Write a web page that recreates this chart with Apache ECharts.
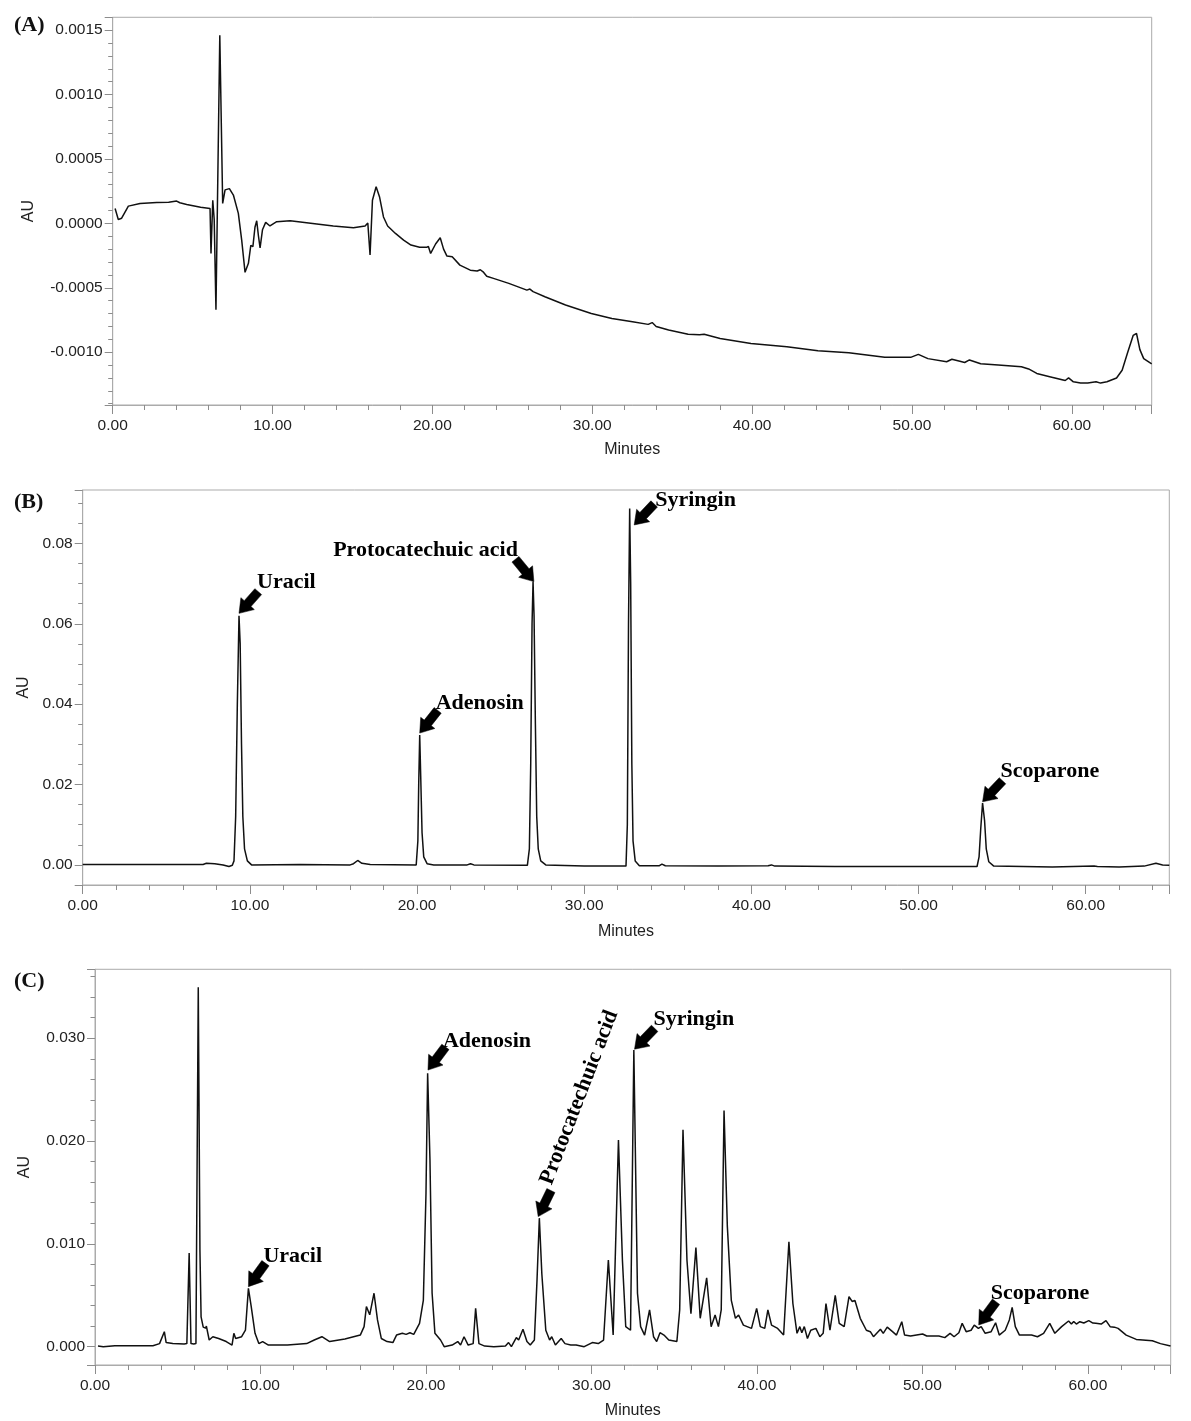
<!DOCTYPE html>
<html><head><meta charset="utf-8">
<script src="https://cdn.jsdelivr.net/npm/echarts@6/dist/echarts.min.js"></script>
<style>html,body{margin:0;padding:0;background:#fff}#c{width:1191px;height:1421px}</style>
</head><body><div id="c"></div>
<script>
// ---------- DATA ----------
const panelLabels = ['(A)', '(B)', '(C)'];
const xAxisName = 'Minutes';
const yAxisName = 'AU';

// Panel A: blank chromatogram [minutes, AU]
const traceA = [[0.15,0.000116],[0.35,0.00003],[0.56,0.00004],[0.98,0.000134],[1.71,0.000155],[2.75,0.000163],[3.5,0.000165],[4.0,0.000173],[4.2,0.00016],[4.63,0.000147],[5.5,0.000125],[6.09,0.000116],[6.15,-0.000233],[6.26,0.00018],[6.35,0.00003],[6.46,-0.00067],[6.70,0.00146],[6.88,0.000155],[7.03,0.00026],[7.3,0.00027],[7.55,0.00022],[7.86,0.000078],[8.07,-0.00013],[8.28,-0.00038],[8.4,-0.00037],[8.49,-0.00031],[8.64,-0.00017],[8.77,-0.00018],[8.9,-0.00003],[9.01,0.00002],[9.12,-0.0001],[9.22,-0.00019],[9.37,-0.00005],[9.57,0.000008],[9.84,-0.00002],[10.26,0.000013],[11.1,0.00002],[12.77,-0.000005],[13.8,-0.00002],[15.06,-0.000033],[15.79,-0.00002],[15.96,0.000003],[16.1,-0.000246],[16.25,0.00018],[16.48,0.000284],[16.69,0.000207],[16.94,0.00005],[17.2,-0.00002],[17.69,-0.000078],[18.2,-0.00013],[18.66,-0.000168],[19.2,-0.000185],[19.62,-0.000186],[19.75,-0.00018],[19.89,-0.000233],[20.2,-0.00016],[20.49,-0.000112],[20.7,-0.0002],[20.91,-0.000254],[21.24,-0.000259],[21.72,-0.000324],[22.37,-0.000363],[22.8,-0.00037],[23.0,-0.00036],[23.17,-0.000376],[23.4,-0.00041],[23.82,-0.000427],[24.78,-0.000466],[25.91,-0.000518],[26.1,-0.00051],[26.3,-0.00053],[27.04,-0.00057],[28.33,-0.000634],[29.94,-0.000699],[31.23,-0.000738],[32.52,-0.000764],[33.5,-0.000784],[33.75,-0.00077],[34.0,-0.0008],[34.78,-0.000828],[36.0,-0.00086],[36.71,-0.000865],[37.0,-0.00086],[38.0,-0.000893],[39.93,-0.000932],[42.18,-0.000958],[44.12,-0.000989],[46.05,-0.001005],[48.3,-0.00104],[49.92,-0.00104],[50.4,-0.001017],[51.0,-0.00105],[52.17,-0.001074],[52.5,-0.001055],[53.0,-0.00107],[53.3,-0.00108],[53.6,-0.00106],[54.3,-0.00109],[55.4,-0.0011],[56.85,-0.001113],[57.3,-0.00113],[57.81,-0.001165],[58.62,-0.00119],[59.59,-0.00122],[59.8,-0.0012],[60.1,-0.00123],[60.55,-0.00124],[61.0,-0.00124],[61.52,-0.00123],[61.8,-0.00124],[62.2,-0.00123],[62.8,-0.0012],[63.15,-0.00114],[63.5,-0.001],[63.84,-0.00087],[64.05,-0.000855],[64.26,-0.00098],[64.5,-0.00105],[65.0,-0.00109]];

// Panel B: standard mixture
const traceB = [[0,0.0001],[3,0.0001],[7.2,0.0001],[7.4,0.0004],[7.9,0.0003],[8.4,0.0],[8.75,-0.0004],[8.95,-0.0001],[9.05,0.001],[9.15,0.012],[9.25,0.04],[9.35,0.062],[9.42,0.055],[9.5,0.03],[9.58,0.012],[9.68,0.004],[9.85,0.001],[10.1,0.0],[13,0.0001],[16.0,0.0],[16.2,0.0003],[16.45,0.0011],[16.7,0.0004],[17.2,0.0001],[19.95,0.0],[20.05,0.006],[20.1,0.02],[20.16,0.0323],[20.22,0.022],[20.3,0.008],[20.4,0.002],[20.6,0.0003],[21,0.0],[23,0.0],[23.2,0.0003],[23.4,0.0],[26.6,-0.0001],[26.72,0.004],[26.8,0.025],[26.88,0.06],[26.94,0.0705],[27.0,0.062],[27.08,0.035],[27.16,0.012],[27.25,0.004],[27.4,0.001],[27.7,0.0],[30,-0.0003],[32.5,-0.0003],[32.58,0.01],[32.65,0.06],[32.72,0.0887],[32.78,0.07],[32.85,0.025],[32.92,0.006],[33.05,0.001],[33.3,-0.0002],[34.5,-0.0002],[34.65,0.0002],[34.85,-0.0002],[38,-0.0003],[41.0,-0.0002],[41.2,0.0],[41.4,-0.0003],[45,-0.0004],[50,-0.0004],[53.5,-0.0004],[53.62,0.002],[53.72,0.009],[53.83,0.0154],[53.95,0.011],[54.05,0.004],[54.2,0.0008],[54.5,-0.0003],[58,-0.0005],[60.5,-0.0003],[60.7,-0.0004],[62,-0.0005],[63.5,-0.0003],[64.2,0.0004],[64.6,0.0],[65,-0.0001]];

// Panel C: sample extract
const traceC = [[0.18,0.00006],[0.5,0.0],[1.2,0.0001],[3.5,0.0001],[3.9,0.0003],[4.19,0.00146],[4.3,0.0004],[4.7,0.0003],[5.39,0.00026],[5.55,0.0003],[5.69,0.0091],[5.8,0.0003],[5.97,0.00026],[6.1,0.0003],[6.24,0.03495],[6.34,0.0094],[6.41,0.0029],[6.54,0.0019],[6.68,0.0018],[6.73,0.002],[6.9,0.00065],[7.12,0.00097],[7.47,0.0008],[7.93,0.0005],[8.28,0.00016],[8.39,0.0013],[8.5,0.0008],[8.86,0.00097],[9.09,0.0016],[9.27,0.00567],[9.44,0.0039],[9.67,0.0013],[9.9,0.0003],[10.13,0.0005],[10.48,0.00016],[11.63,0.00016],[12.79,0.0003],[13.25,0.00065],[13.71,0.00097],[14.18,0.0005],[15.1,0.00075],[16.03,0.00113],[16.26,0.00195],[16.4,0.0039],[16.6,0.0031],[16.86,0.0052],[17.07,0.0026],[17.3,0.0008],[17.65,0.0005],[18.0,0.0004],[18.22,0.00113],[18.57,0.0013],[18.8,0.0012],[19.03,0.00136],[19.26,0.0012],[19.61,0.00227],[19.84,0.0045],[20.0,0.0149],[20.1,0.0266],[20.24,0.0182],[20.37,0.0052],[20.54,0.0013],[20.88,0.00065],[21.1,0.0],[21.58,0.00016],[21.92,0.0005],[22.09,0.00016],[22.3,0.00097],[22.55,0.00016],[22.85,0.0003],[23.0,0.00373],[23.2,0.0003],[23.55,0.00006],[24.1,0.0],[24.8,0.00006],[24.99,0.0004],[25.16,0.0],[25.46,0.00088],[25.6,0.00065],[25.86,0.0017],[26.1,0.0005],[26.3,0.00016],[26.55,0.00065],[26.71,0.0065],[26.85,0.0125],[27.0,0.0071],[27.24,0.0016],[27.47,0.00065],[27.6,0.00097],[27.82,0.00016],[28.17,0.0008],[28.4,0.0003],[28.75,0.00016],[29.07,0.00016],[29.56,0.0],[30.05,0.0004],[30.41,0.0003],[30.73,0.00065],[31.02,0.00843],[31.31,0.00113],[31.63,0.0201],[31.87,0.0084],[32.07,0.00195],[32.36,0.0016],[32.56,0.02886],[32.78,0.0052],[32.97,0.00195],[33.21,0.00113],[33.51,0.00357],[33.75,0.00097],[33.94,0.0005],[34.14,0.00136],[34.38,0.00113],[34.67,0.00065],[35.16,0.0005],[35.33,0.00357],[35.53,0.0211],[35.77,0.0084],[36.01,0.0032],[36.31,0.00963],[36.57,0.00276],[36.96,0.0067],[37.23,0.00195],[37.47,0.00308],[37.67,0.00195],[37.84,0.00357],[38.01,0.02296],[38.21,0.0117],[38.45,0.0045],[38.7,0.00276],[38.89,0.00308],[39.18,0.0021],[39.67,0.00178],[39.98,0.00373],[40.2,0.00195],[40.47,0.00178],[40.66,0.00357],[40.88,0.0021],[41.25,0.00178],[41.61,0.00113],[41.93,0.0102],[42.17,0.0042],[42.42,0.0013],[42.59,0.00195],[42.71,0.00136],[42.86,0.00195],[43.05,0.0008],[43.25,0.0016],[43.56,0.00178],[43.8,0.00097],[44.0,0.0013],[44.17,0.0042],[44.41,0.0016],[44.73,0.005],[44.97,0.00227],[45.27,0.00195],[45.56,0.00486],[45.75,0.0044],[45.92,0.0045],[46.24,0.00276],[46.61,0.0016],[46.85,0.00146],[47.04,0.00097],[47.46,0.0017],[47.63,0.0013],[47.87,0.0019],[48.19,0.00146],[48.43,0.00113],[48.75,0.00243],[48.92,0.00113],[49.28,0.00104],[50.01,0.00123],[50.26,0.00104],[50.99,0.00104],[51.35,0.00088],[51.67,0.0013],[51.91,0.00097],[52.2,0.00136],[52.4,0.00227],[52.64,0.00146],[52.94,0.0016],[53.13,0.0021],[53.38,0.00178],[53.55,0.00195],[53.79,0.0013],[54.15,0.00146],[54.42,0.00233],[54.64,0.00113],[55.0,0.0016],[55.25,0.0026],[55.42,0.00383],[55.61,0.00195],[55.86,0.00113],[56.59,0.00113],[56.95,0.00097],[57.32,0.0013],[57.69,0.00227],[58.0,0.0013],[58.41,0.00195],[58.83,0.0025],[59.0,0.0022],[59.14,0.00245],[59.3,0.0022],[59.51,0.00243],[59.75,0.0023],[60.05,0.00253],[60.3,0.0023],[60.48,0.00227],[60.8,0.0022],[61.09,0.00253],[61.34,0.00195],[61.6,0.0019],[61.82,0.00178],[62.31,0.00113],[62.92,0.00071],[63.89,0.00058],[64.38,0.0003],[64.99,0.00006]];

// Annotated compounds: names, arrow target time (min), arrow target value (AU)
const namesB  = ['Uracil', 'Adenosin', 'Protocatechuic acid', 'Syringin', 'Scoparone'];
const timesB  = [9.35, 20.16, 26.99, 32.99, 53.83];
const valuesB = [0.0626, 0.0328, 0.0705, 0.0846, 0.0157];
const namesC  = ['Uracil', 'Adenosin', 'Protocatechuic acid', 'Syringin', 'Scoparone'];
const timesC  = [9.27, 20.12, 26.78, 32.6, 53.4];
const valuesC = [0.00584, 0.0269, 0.01265, 0.02893, 0.00211];

// ---------- STYLE ----------
const SANS = '"Liberation Sans", Arial, sans-serif';
const SERIF = '"Liberation Serif", "Times New Roman", serif';
const FRAME = '#ababab';
const TICK = '#8c8c8c';
const TXT = '#222';
const LINE = '#111';

// arrow angle (deg, from tip toward tail), label dx/dy (px), align, rotation
const annStyleB = [
  {ang: 48.5, dx: 18, dy: -31, align: 'left', rot: 0},
  {ang: 51.7, dx: 16, dy: -30, align: 'left', rot: 0},
  {ang: 129.5, dx: -16, dy: -31, align: 'right', rot: 0},
  {ang: 46.5, dx: 21, dy: -25, align: 'left', rot: 0},
  {ang: 46.6, dx: 18, dy: -31, align: 'left', rot: 0}
];
const annStyleC = [
  {ang: 54, dx: 15, dy: -30, align: 'left', rot: 0},
  {ang: 53, dx: 15, dy: -29, align: 'left', rot: 0},
  {ang: 64, dx: 8, dy: -33, align: 'left', rot: 69},
  {ang: 46, dx: 19, dy: -30, align: 'left', rot: 0},
  {ang: 53.4, dx: 12, dy: -32, align: 'left', rot: 0}
];

const grids = [
  {left: 112.7, top: 17.3, width: 1039, height: 387.7},
  {left: 82.7, top: 490, width: 1086.6, height: 395},
  {left: 95, top: 969.3, width: 1075.7, height: 395.7}
];

function xAxisCfg(gi, nameGap) {
  return {
    type: 'value', gridIndex: gi, min: 0, max: 65, interval: 10,
    name: xAxisName, nameLocation: 'middle', nameGap: nameGap,
    nameTextStyle: {fontFamily: SANS, fontSize: 16, color: TXT},
    axisLine: {show: true, onZero: false, lineStyle: {color: FRAME, width: 1}},
    axisTick: {show: true, length: 9, lineStyle: {color: TICK, width: 1}},
    minorTick: {show: true, splitNumber: 5, length: 5, lineStyle: {color: TICK, width: 1}},
    axisLabel: {margin: 13, fontFamily: SANS, fontSize: 15.5, color: TXT,
      formatter: v => v.toFixed(2), showMaxLabel: false, showMinLabel: true},
    splitLine: {show: false}, minorSplitLine: {show: false}
  };
}
function yAxisCfg(gi, min, max, step, minorSplit, dec, nameGap) {
  return {
    type: 'value', gridIndex: gi, min: min, max: max,
    minInterval: step, maxInterval: step, splitNumber: Math.round((max - min) / step),
    name: yAxisName, nameLocation: 'middle', nameGap: nameGap,
    nameTextStyle: {fontFamily: SANS, fontSize: 16, color: TXT},
    axisLine: {show: true, lineStyle: {color: FRAME, width: 1}},
    axisTick: {show: true, length: 8, lineStyle: {color: TICK, width: 1}},
    minorTick: {show: true, splitNumber: minorSplit, length: 4.5, lineStyle: {color: TICK, width: 1}},
    axisLabel: {margin: 10, fontFamily: SANS, fontSize: 15.5, color: TXT,
      formatter: v => v.toFixed(dec), showMinLabel: false, showMaxLabel: false},
    splitLine: {show: false}, minorSplitLine: {show: false}
  };
}
function traceSeries(gi, data) {
  return {type: 'line', xAxisIndex: gi, yAxisIndex: gi, data: data, showSymbol: false,
    symbol: 'none', smooth: false, sampling: null, silent: true, clip: true,
    lineStyle: {color: LINE, width: 1.5}, z: 3};
}
function annSeries(gi, names, times, values, styles) {
  return {
    type: 'custom', xAxisIndex: gi, yAxisIndex: gi, clip: false, silent: true, z: 10,
    data: times.map((t, i) => [t, values[i], i]),
    renderItem: function (params, api) {
      const i = api.value(2);
      const p = api.coord([api.value(0), api.value(1)]);
      const s = styles[i];
      const a = s.ang * Math.PI / 180;
      const u = [Math.cos(a), -Math.sin(a)];
      const n = [Math.sin(a), Math.cos(a)];
      const L = 29, hl = 13, hw = 18, sw = 9;
      const H = [p[0] + u[0] * hl, p[1] + u[1] * hl];
      const T = [p[0] + u[0] * L, p[1] + u[1] * L];
      const pt = (b, k) => [b[0] + n[0] * k, b[1] + n[1] * k];
      const pts = [p, pt(H, hw / 2), pt(H, sw / 2), pt(T, sw / 2), pt(T, -sw / 2), pt(H, -sw / 2), pt(H, -hw / 2)];
      return {
        type: 'group',
        children: [
          {type: 'polygon', shape: {points: pts}, style: {fill: '#000', stroke: '#000', lineWidth: 0.5}},
          {type: 'text', x: p[0] + s.dx, y: p[1] + s.dy, rotation: s.rot * Math.PI / 180,
            style: {text: names[i], fill: '#000', font: 'bold 22px ' + SERIF,
              align: s.align, verticalAlign: 'middle'}}
        ]
      };
    }
  };
}

const chart = echarts.init(document.getElementById('c'), null, {renderer: 'canvas'});
chart.setOption({
  animation: false,
  backgroundColor: '#fff',
  title: panelLabels.map((t, i) => ({
    text: t, left: 14, top: [14, 491, 970][i], padding: 0,
    textStyle: {fontFamily: SERIF, fontWeight: 'bold', fontSize: 22, color: '#111'}
  })),
  grid: grids.map(g => Object.assign({show: true, borderColor: FRAME, borderWidth: 1,
    backgroundColor: 'transparent', containLabel: false, outerBoundsMode: 'none'}, g)),
  xAxis: [xAxisCfg(0, 37), xAxisCfg(1, 39), xAxisCfg(2, 38)],
  yAxis: [
    yAxisCfg(0, -0.00141, 0.0016, 0.0005, 5, 4, 76),
    yAxisCfg(1, -0.005, 0.0933, 0.02, 4, 2, 51),
    yAxisCfg(2, -0.00178, 0.0367, 0.01, 5, 3, 62)
  ],
  series: [
    traceSeries(0, traceA),
    traceSeries(1, traceB),
    traceSeries(2, traceC),
    annSeries(1, namesB, timesB, valuesB, annStyleB),
    annSeries(2, namesC, timesC, valuesC, annStyleC)
  ]
});
</script></body></html>
